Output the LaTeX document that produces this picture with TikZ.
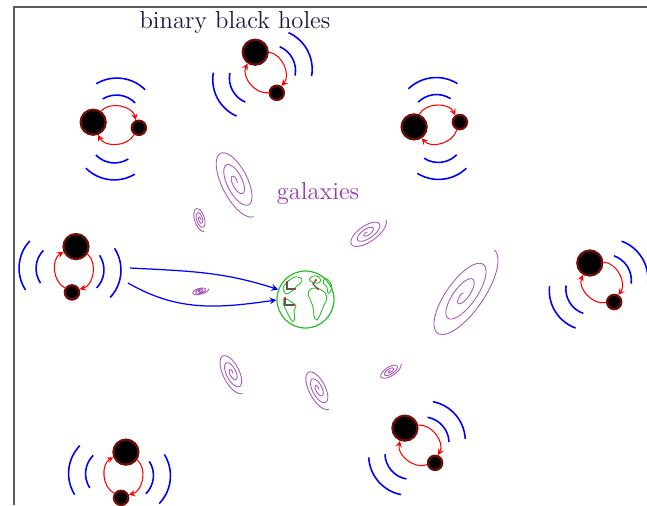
\documentclass[tikz,border=0pt]{standalone}
\usepackage{xcolor}
\usepackage{tikz}
\usetikzlibrary{arrows.meta}

\definecolor{holerim}{RGB}{110,15,10}
\definecolor{galaxyviolet}{RGB}{150,60,170}
\definecolor{titlenavy}{RGB}{25,25,70}
\definecolor{globegreen}{RGB}{40,190,40}
\definecolor{framegray}{RGB}{90,90,90}

\begin{document}
\begin{tikzpicture}[
    x=0.02cm, y=0.02cm,
    % black holes: black disc, dark red rim
    bigbh/.style={circle, fill=black, draw=holerim, line width=1.3pt,
                  minimum size=0.5cm, inner sep=0pt},
    smallbh/.style={circle, fill=black, draw=holerim, line width=1.3pt,
                    minimum size=0.285cm, inner sep=0pt},
    orbit/.style={-stealth, red, line width=0.6pt},
    % gravitational wave fronts
    gwave/.style={blue, line width=0.9pt},
    galaxy/.style={galaxyviolet!85, line width=0.5pt},
    beam/.style={-stealth, blue, line width=0.7pt},
    earthglobe/.style={circle, draw=globegreen, line width=0.7pt,
                       minimum size=1.14cm, inner sep=0pt},
    land/.style={globegreen, line width=0.5pt},
    arm/.style={black!65, line width=0.7pt},
    heading/.style={font=\fontsize{14}{17}\selectfont, text=titlenavy, anchor=base},
]
    \useasboundingbox (0,0) rectangle (647,-505);

    % page frame (top and left edges only)
    \draw[framegray, line width=1.2pt] (14,-505) -- (14,-7) -- (647,-7);

    \node[heading] (bbh-label) at (235,-28) {binary black holes};
    \node[heading, text=galaxyviolet] (galaxy-label) at (318,-199) {galaxies};

    % binaries: name / centre / axis angle (big -> small)
    \foreach \bn/\cx/\cy/\ang in {tl/116/125/-7, tc/266/72.5/-62, tr/437/124.5/6,
                                  ml/74/269.5/-95, mr/602/282.5/-58,
                                  bc/420/445.5/-49, bl/123.5/475/-96}{
      \begin{scope}[shift={(\cx,-\cy)}, rotate=\ang]
        \node[bigbh] (\bn-big) at (-23,0) {};
        \node[smallbh] (\bn-small) at (23,0) {};
        \draw[orbit] (\bn-big) to[bend left=62] (\bn-small);
        \draw[orbit] (\bn-small) to[bend left=62] (\bn-big);
        % two wave fronts on each side
        \draw[gwave] (0,4) ++(51:26) arc[start angle=51, end angle=129, radius=26];
        \draw[gwave] (0,7) ++(52:40) arc[start angle=52, end angle=128, radius=40];
        \draw[gwave] (0,-12) ++(231:26) arc[start angle=231, end angle=309, radius=26];
        \draw[gwave] (0,-15) ++(232:40) arc[start angle=232, end angle=308, radius=40];
      \end{scope}
    }

    % spiral galaxies: centre / half axes / tilt
    \foreach \gx/\gy/\ga/\gb/\grot in {236/182/39/16/-63, 200/219/13/6/-72,
                                       367/233/23/10/35, 463/295/55/21/55,
                                       200/291/9/3.5/15, 232/373/23/10/-63,
                                       318/389/23/10/-62, 390/371/13/5.5/33}
      \draw[galaxy, shift={(\gx,-\gy)}, rotate=\grot, xscale=\ga, yscale=\gb]
        plot[smooth, domain=40:1080, samples=110, variable=\t]
        ({\t/1080*cos(\t)}, {\t/1080*sin(\t)});

    % the Earth with its continents
    \node[earthglobe] (earth) at (305.5,-299.5) {};
    \begin{scope}[shift={(earth.center)}]
      \draw[land] plot[smooth cycle, tension=0.6] coordinates {(-19.5,16.2) (-14.8,20.2)
        (-9.5,22.8) (-3.8,20.8) (-4.8,16.2) (-8.8,13.5) (-11.5,10.2) (-14.8,7.5)
        (-18.8,5.5) (-21.5,7.8) (-22.2,12.2)};
      \draw[land] plot[smooth cycle, tension=0.6] coordinates {(-21.5,1.2) (-17.2,-0.5)
        (-12.8,-3.2) (-9.5,-6.5) (-11.5,-11.2) (-10.8,-18.8) (-12.8,-22.2)
        (-16.2,-17.2) (-19.5,-10.5) (-22.2,-3.8)};
      \draw[land] plot[smooth cycle, tension=0.6] coordinates {(3.8,20.2) (7.8,23.5)
        (12.8,22.8) (15.2,18.8) (11.8,16.2) (7.8,16.8)};
      \draw[land] plot[smooth cycle, tension=0.6] coordinates {(3.8,9.5) (8.5,11.5)
        (14.5,10.2) (19.8,6.2) (21.2,0.2) (17.8,-7.2) (14.5,-15.5) (11.2,-20.5)
        (8.5,-16.5) (7.8,-8.8) (5.2,-1.2) (2.8,4.5)};
      \draw[land] plot[smooth cycle, tension=0.6] coordinates {(19.5,21.2) (24.5,17.8)
        (26.2,11.2) (22.8,6.2) (21.2,12.8) (17.8,16.2)};
      % detectors: corner / arm end / arm end
      \foreach \px/\py/\qx/\qy/\rx/\ry in {-18.5/10.5/-18.5/17.5/-10.5/10.5,
                                           -20.5/-5.5/-20.5/1.5/-11.5/-5.5,
                                           7.5/15.5/10.5/19.5/12.5/10.5}{
        \draw[arm] (\qx,\qy) -- (\px,\py) -- (\rx,\ry);
        \fill[red] (\qx,\qy) circle[radius=1.2] (\rx,\ry) circle[radius=1.2];
      }
    \end{scope}

    % signals reaching the Earth
    \coordinate (beam-a) at (130,-268);
    \coordinate (beam-b) at (128,-283);
    \draw[beam] (beam-a) to[out=-3, in=162] (earth.160);
    \draw[beam] (beam-b) to[out=-30, in=188] (earth.181);
\end{tikzpicture}
\end{document}
